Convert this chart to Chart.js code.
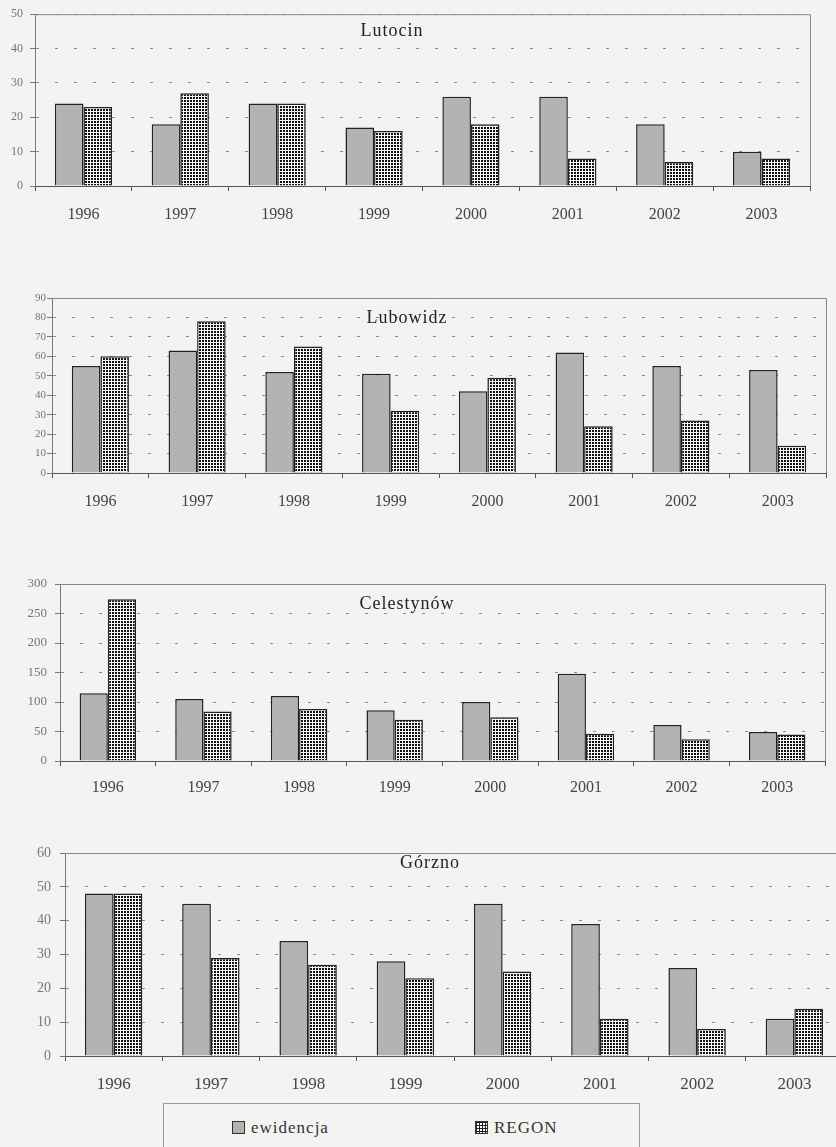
<html>
<head>
<meta charset="UTF-8" />
<script src="https://cdn.jsdelivr.net/npm/chart.js@4.4.0/dist/chart.umd.min.js"></script>
<style>
body { margin: 0; background: #f3f3f1; overflow: hidden; width: 836px; height: 1147px; position: relative; font-family: "Liberation Serif", serif; }
canvas { position: absolute; left: 0; }
.title { position: absolute; font-size: 18px; color: #222; letter-spacing: 1px; transform: translate(-50%, -50%); white-space: nowrap; }
#legend { position: absolute; left: 163px; top: 1103px; width: 475px; height: 60px; border: 1px solid #999; }
.item { position: absolute; top: 14px; font-size: 17px; color: #333; letter-spacing: 1px; }
.sw { display: inline-block; width: 11px; height: 11px; border: 1px solid #333; margin-right: 6px; vertical-align: -1px; }
</style>
</head>
<body>
<canvas id="c1" width="850" height="230" style="top:0px"></canvas>
<canvas id="c2" width="850" height="280" style="top:240px"></canvas>
<canvas id="c3" width="850" height="280" style="top:530px"></canvas>
<canvas id="c4" width="850" height="280" style="top:820px"></canvas>
<div id="legend">
	<div class="item" style="left:68px"><span class="sw" style="background:#b3b3b1"></span>ewidencja</div>
	<div class="item" style="left:311px"><span class="sw" style="background-color:#fff;background-image:linear-gradient(#222 1px, transparent 1px),linear-gradient(90deg, #222 1px, transparent 1px);background-size:3px 3px"></span>REGON</div>
</div>
<script>
const years = ["1996", "1997", "1998", "1999", "2000", "2001", "2002", "2003"];
const seriesNames = ["ewidencja", "REGON"];
const panelTitles = ["Lutocin", "Lubowidz", "Celestynów", "Górzno"];

const lutocinEwidencja = [24, 18, 24, 17, 26, 26, 18, 10];
const lutocinRegon = [23, 27, 24, 16, 18, 8, 7, 8];
const lubowidzEwidencja = [55, 63, 52, 51, 42, 62, 55, 53];
const lubowidzRegon = [60, 78, 65, 32, 49, 24, 27, 14];
const celestynowEwidencja = [115, 105, 110, 86, 100, 148, 61, 49];
const celestynowRegon = [274, 84, 88, 70, 74, 46, 37, 45];
const gorznoEwidencja = [48, 45, 34, 28, 45, 39, 26, 11];
const gorznoRegon = [48, 29, 27, 23, 25, 11, 8, 14];

const yMax = [50, 90, 300, 60];
const yStep = [10, 10, 50, 10];

// layout of each panel (page coordinates)
const panels = [
	{ id: "c1", top: 0, height: 230, left: 35, right: 810, plotTop: 12, plotBottom: 186, labelY: 215, yFont: 12, xFont: 16, yPad: 7, titleX: 392, titleY: 30, ewid: lutocinEwidencja, regon: lutocinRegon },
	{ id: "c2", top: 240, height: 280, left: 52, right: 826, plotTop: 298, plotBottom: 473, labelY: 502, yFont: 11, xFont: 16, yPad: 1, titleX: 407, titleY: 317, ewid: lubowidzEwidencja, regon: lubowidzRegon },
	{ id: "c3", top: 530, height: 280, left: 60, right: 825, plotTop: 584, plotBottom: 761, labelY: 788, yFont: 13, xFont: 16, yPad: 8, titleX: 407, titleY: 603, ewid: celestynowEwidencja, regon: celestynowRegon },
	{ id: "c4", top: 820, height: 280, left: 65, right: 843, plotTop: 853, plotBottom: 1056, labelY: 1085, yFont: 14, xFont: 17, yPad: 9, titleX: 430, titleY: 862, ewid: gorznoEwidencja, regon: gorznoRegon }
];

function dotPattern() {
	const c = document.createElement("canvas");
	c.width = 3; c.height = 3;
	const g = c.getContext("2d");
	g.fillStyle = "#f8f8f8";
	g.fillRect(0, 0, 3, 3);
	g.fillStyle = "#111";
	g.fillRect(1, 1, 2, 2);
	return g.createPattern(c, "repeat");
}

const frame = {
	id: "frame",
	beforeDatasetsDraw(chart) {
		const { ctx, chartArea: a } = chart;
		ctx.save();
		ctx.strokeStyle = "#888";
		ctx.lineWidth = 1;
		ctx.beginPath();
		ctx.moveTo(a.left, a.top + 0.5);
		ctx.lineTo(a.right + 0.5, a.top + 0.5);
		ctx.lineTo(a.right + 0.5, a.bottom);
		ctx.stroke();
		ctx.restore();
	}
};

panels.forEach((p, i) => {
	const t = document.createElement("div");
	t.className = "title";
	t.textContent = panelTitles[i];
	t.style.left = p.titleX + "px";
	t.style.top = p.titleY + "px";
	document.body.appendChild(t);

	const xTick = 5;
	const xPad = p.labelY - p.plotBottom - xTick - p.xFont * 0.6;
	new Chart(document.getElementById(p.id), {
		type: "bar",
		data: {
			labels: years,
			datasets: [
				{ label: seriesNames[0], data: p.ewid, backgroundColor: "#b3b3b1", borderColor: "#222", borderWidth: 1.5 },
				{ label: seriesNames[1], data: p.regon, backgroundColor: dotPattern(), borderColor: "#222", borderWidth: 1.5 }
			]
		},
		options: {
			responsive: false,
			animation: false,
			events: [],
			datasets: { bar: { categoryPercentage: 0.59, barPercentage: 1 } },
			layout: { padding: { top: p.plotTop - p.top, right: 850 - p.right, left: 0, bottom: 0 } },
			plugins: { legend: { display: false }, tooltip: { enabled: false } },
			scales: {
				x: {
					afterFit: (s) => { s.height = p.top + p.height - p.plotBottom; },
					grid: { drawOnChartArea: false, offset: true, tickLength: xTick, tickColor: "#555" },
					border: { color: "#555" },
					ticks: { color: "#444", font: { family: "Liberation Serif", size: p.xFont }, padding: xPad }
				},
				y: {
					min: 0,
					max: yMax[i],
					afterFit: (s) => { s.width = p.left; },
					grid: { color: "#8d8d8d", tickLength: 5, tickColor: "#777" },
					border: { color: "#777", dash: [3, 16] },
					ticks: { stepSize: yStep[i], color: "#777", font: { family: "Liberation Serif", size: p.yFont }, padding: p.yPad }
				}
			}
		},
		plugins: [frame]
	});
});
</script>
</body>
</html>
